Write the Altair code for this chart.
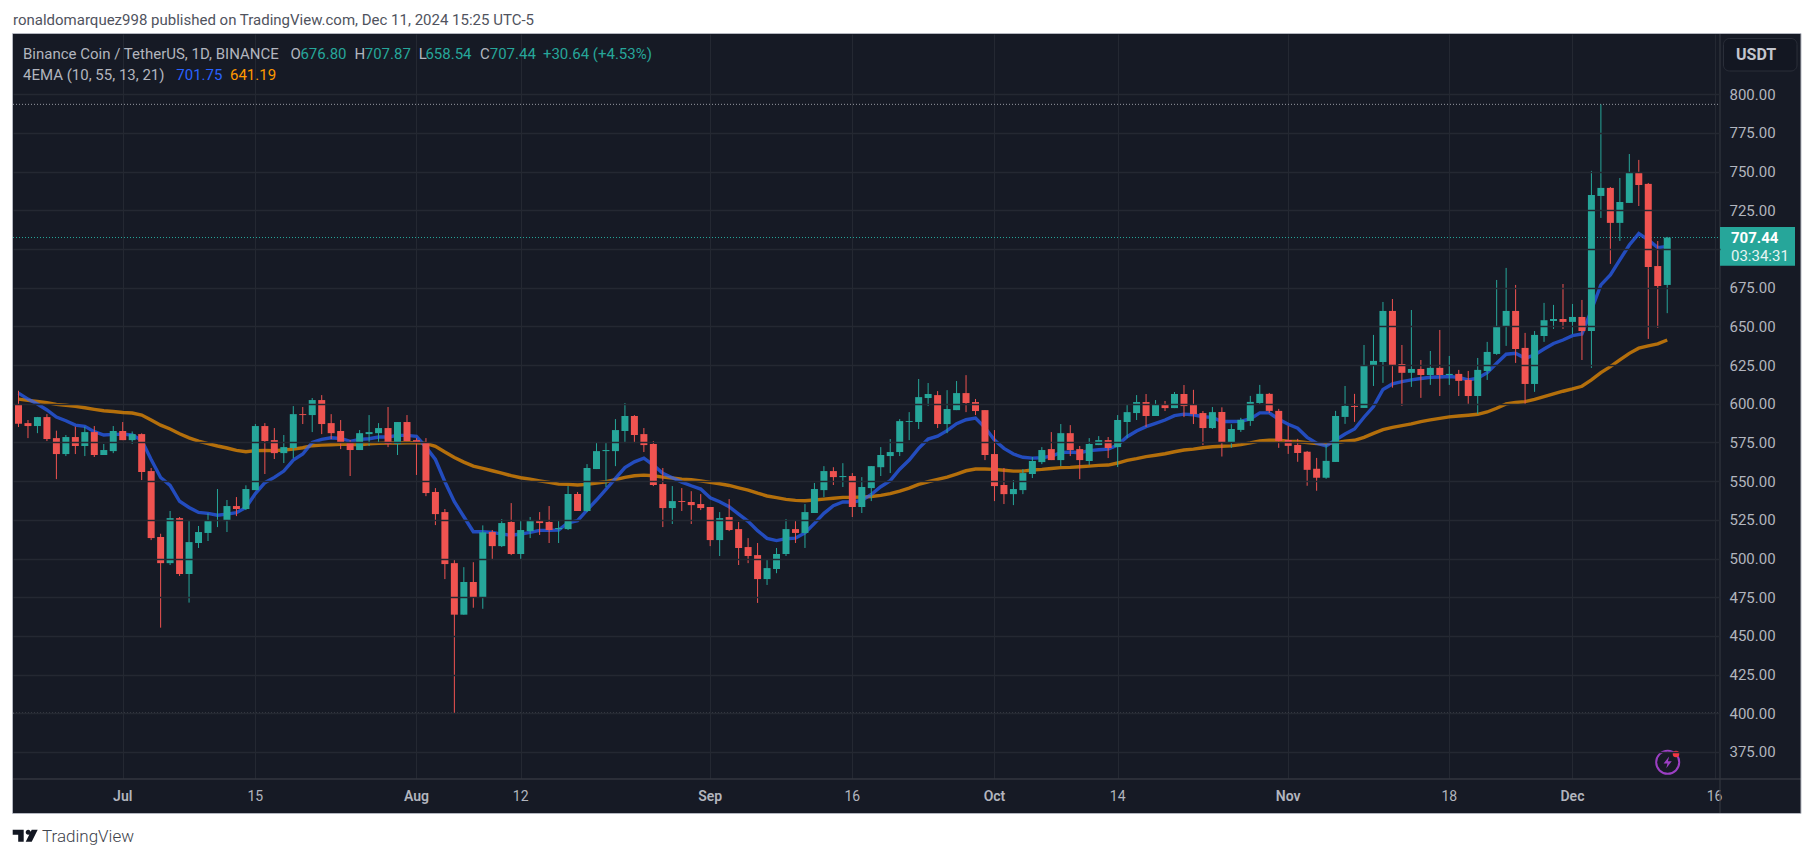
import altair as alt
import pandas as pd

# ---------- daily values, 2024-06-20 .. 2024-12-11 ----------
opens = [599.2,587.5,585.6,591.4,577.8,567.5,578.5,572.7,581.7,566.9,569.4,582.4,576.5,580.4,556.5,513.9,497,526.1,490,510,516.5,524.2,524.2,533.9,532,544.2,585.6,576.5,568.1,571.4,593.3,592.7,602.4,587.5,582.4,575.3,570.1,580.4,581,584.3,574,588.2,576.5,575.3,543,530,497,463.7,484.8,474.6,517.1,508,523.6,502.9,517.7,524.2,523.6,519,519,541.7,530.7,557.8,569.4,569.4,
 582.4,592.1,580.4,574,548.1,532.6,537.1,536.5,535.2,533.3,511.9,526.8,519,507.4,502.2,486.7,493.2,502.9,519,516.5,529.4,544.2,556.5,552.6,553.3,533.3,545.5,559,566.2,568.8,588.2,588.2,603.7,605.6,586.9,595.9,606.9,601.1,595.9,567.5,547.5,541.6,544.2,554.6,562.3,570.7,563.6,581,570.7,563,573.3,576.5,572,588.2,594,601.1,592.1,599.2,597.2,606.3,599.2,594,584.3,
 594.7,574.7,583.1,588.9,600.5,606.4,595.4,576.6,573.4,569,558,552.2,562.4,591.5,598.6,597.3,624.5,627,660,625.7,620,622.5,618.6,623.2,618.6,619.3,615.4,605,621.2,632.2,649.6,660,636.1,612.8,643.8,653.5,654.8,652.9,656.1,647,734.3,739.5,716.9,729.8,749.8,742.1,689,676.8]
closes = [587.1,585.6,591.4,577.2,567.5,578.5,572.7,581.7,566.9,570.1,582.4,576.5,580.4,555.9,513.2,497,526.1,490,510.6,517.1,524.9,524.9,533.9,532,544.9,585.6,575.9,568.1,572,593.3,592.7,602.4,586.9,581,574.6,570.1,581,581.7,584.3,574,588.2,575.9,574.6,542.3,528.7,496.4,463.7,484.8,474.6,516.9,508,522.9,502.9,518.4,524.2,522.9,518.4,519.7,541.7,530.7,558.5,569.4,570.1,583,
 592.1,579.8,573.3,547.5,532.6,537.1,536.5,534.5,532.6,511.9,526.1,518.4,506.8,501.6,486.7,493.8,502.9,519,516.5,530,544.9,556.5,552.6,553.3,533.3,546.2,559.7,566.9,568.8,588.8,588.8,604.3,606.3,586.9,596.6,606.9,600.5,595.3,566.9,546.8,541.6,544.9,555.2,563,570.1,563.6,581,570.1,563.6,574,576.5,571.4,589.5,594.6,601.1,592.1,599.2,597.2,606.3,598.5,593.3,584.3,594.6,
 574.7,583.7,589.6,601.2,606.4,595.4,576,572.8,568.2,557.3,552.2,563.1,592.1,598.6,598,625.1,627.7,660,625.1,620,622.5,618.6,623.2,618.6,619.3,614.8,605,621.9,633.5,650.3,660,635.4,612.8,644.5,654,654.8,652.9,656.1,647,735,739.5,716.9,730.4,749.8,741.4,688.4,676.1,707.44]
highs = [608.4,589.5,591.5,593.3,582.6,579.8,585.2,585.2,585.6,574,585.6,588.2,582.1,580.9,558.5,516,530.7,526.8,524.2,521,529.2,544.9,537.8,539.7,547.3,586.9,587.5,584.3,579.8,598.5,597.9,603.7,605.6,593.3,589.5,576.5,583,592.7,587.5,597.9,588.2,592.7,577.8,577.8,545.5,532,499.6,494.4,497.6,521.4,518.4,525.5,535.8,524.2,526.8,530,533.9,524.9,546.8,543,561,575.3,575.3,590.1,
 600.5,592.7,584.3,575.9,558.5,546.8,545.5,543.5,541.6,533.3,530,538.4,523.6,513.2,510,499.6,506.8,525.5,524.2,535.2,548.8,559.7,559,561.6,555.2,552.6,559.7,572,577.2,590.1,594.6,616,613.4,608.2,608.8,614.7,618.5,603.1,595.9,583,558.5,550.7,557.8,565.6,572,581.7,586.9,586.2,572.7,577.8,579.1,578.5,592.7,599.8,605.6,606.3,602.4,601.8,607.6,612.1,609,595.3,597.9,
 597.7,586.8,590.9,605.1,612.2,607,596.7,585.7,577.3,569.5,565,573.4,595.4,611.5,606.4,638,644.5,665.8,667.7,638,660.6,628.3,634.1,647.7,630.9,621.9,621.2,629.6,640,680,687.8,676.8,645.8,647,665.2,663.9,677.4,664.5,667.1,750.5,793.5,740.1,745.9,761.4,757.6,742.7,705.2,707.87]
lows = [585,577.8,581,575.9,551.3,566.2,567.5,566.2,565.6,566.9,568.1,576.5,574,550.7,511.9,455.3,495.8,488.7,471.5,506.8,511.3,520.3,517.1,527.4,531.3,544.2,554.6,564.3,561.7,564.9,586.9,581.7,580.4,577.2,570.7,553.3,570.1,572.7,574.6,572,566.9,575.9,554,540.3,521.6,486.7,400,463.7,468.2,467.5,499,507.4,502.2,499,513.2,515.2,510,510,518.4,530.7,530,557.8,546.2,559.7,
 574.6,574.6,568.8,546.8,520.3,522.3,530.7,522.3,531.3,508,501.6,517.7,495.8,497,471.3,482.9,490.5,501.6,510,506.8,529.4,539.7,547.5,546.2,526.8,529.4,537.1,553.3,555.2,566.2,576.5,583.7,598.5,584.3,581,595.9,594.6,592.7,563.6,537.1,535.2,534.5,541.6,552,561,563.6,559.7,566.2,551.3,560.4,573.3,564.9,559.1,577.8,589.5,585,592.1,595.3,597.2,591.4,586.9,573.3,583.7,
 565.9,571.5,581.8,585.7,599.9,594.1,571.5,567.6,562.5,547,543.8,551.5,562.4,587,588.3,597.3,611.5,613.5,610.4,598.6,610.9,603.8,612.2,605,612.2,605,599.9,593.4,615.4,631.6,637.4,626.4,599.9,607.7,640,648.4,648.4,645.1,628.3,623.2,720.1,690.4,705.2,729.8,727.8,641.9,649,658.54]
ema_fast = [606.9,603,599.8,596,591.4,589,586.2,585.4,582,579.8,580.2,580.4,579.8,576.5,564,552.4,547.2,537,533,529.8,529.2,528,528.7,529.6,533,542,549,552.4,556.5,563.6,567.5,575,577,578,577.6,575.7,577,577.4,578.5,578.5,579.6,579.6,579,572,564,549.6,536.7,527,517.3,517.3,516.9,515.8,515,515.8,516.9,518.2,518.2,518.4,523.1,524.4,531.3,537.8,544.7,551.8,
 558.7,562.5,564.9,560.4,555,552.2,549.4,547,544.9,539.3,536.7,533.5,528.7,524,518,513,511.6,512.8,513.2,516.5,522.7,529.2,534.1,536.5,536.5,537.6,541.4,546.4,550.3,557.7,563.6,571.2,577.2,579.1,582.6,587.1,589.7,590.8,584.6,576.5,571.2,567.5,565.4,564.9,565.1,566.2,568.4,568.8,568.4,569.7,570.3,570.7,573.3,578.7,582.4,585.2,587.3,589.5,592.3,593.3,592.9,591.6,591.2,
 588.5,588.5,588.7,590.2,594.1,594.1,590,586.8,584.2,578.3,574.5,572.8,576.6,580.5,583.7,591.3,598.2,609.2,612.8,614.3,615.4,616.3,617.1,617.3,617.6,617.1,615.4,616.5,620.1,626.2,632,632.6,629.4,631.6,635.4,639,641.2,644,645.1,660.6,676.8,683.3,693,702.6,710,705.9,700.9,701.75]
ema_slow = [603,602.2,601.5,600.7,599.6,599,598.3,597.4,596.4,595.5,595,594.4,594,592.7,589.5,586.2,583.7,580.6,578,575.9,574.2,572.7,571.4,569.9,569,569.7,569.9,569.7,570.1,570.7,571.6,572.9,573.3,573.5,573.8,573.8,573.5,574.2,574.4,574.6,574.6,574.8,574.8,574.4,572.5,568.8,565.3,562.3,559.7,558.2,556.7,555.2,553.5,552.2,551.3,550.2,549.2,548.1,547.9,547.5,547.9,548.8,549.6,551,
 552.4,553.5,553.9,553.5,552.6,552,551.3,550.9,550.2,549.2,548.3,547.2,545.7,544.2,542.2,540.4,539.3,538.2,537.6,537.3,537.8,538.4,538.9,539.5,539.5,539.7,540.1,540.8,541.9,543.6,545.5,547.9,549.6,551.1,552.6,554.6,556.7,557.8,557.8,557.6,557,556.5,556.5,557.2,557.6,558.2,558.7,558.9,559.3,559.7,560.2,560.4,561.7,563.4,564.5,565.8,566.7,567.7,569,570.1,570.7,571.6,572.2,
 572.5,572.8,573.6,574.7,576,576.4,576.4,575.8,575.6,574.9,574.3,574.1,574.9,575.8,576.4,578.3,580.9,583.3,584.8,585.9,587,588.5,589.6,590.6,591.5,592.1,592.6,593.2,594.7,597.1,599.9,600.8,601.4,602.9,604.6,606.4,608.1,609.6,611.3,615.4,620.1,624,628.3,632.6,635.9,637.4,638.7,641.19]

dates = pd.date_range("2024-06-20", periods=len(opens)).strftime("%Y-%m-%d").tolist()

tick_dates = ["2024-07-01","2024-07-15","2024-08-01","2024-08-12","2024-09-01","2024-09-16",
              "2024-10-01","2024-10-14","2024-11-01","2024-11-18","2024-12-01","2024-12-16"]
tick_labels = ["Jul","15","Aug","12","Sep","16","Oct","14","Nov","18","Dec","16"]
month_labels = ["Jul","Aug","Sep","Oct","Nov","Dec"]
price_ticks = list(range(375, 825, 25))
guide_levels = [793.5, 400]
last_close = 707.44

# ---------- styling ----------
BG = "#161A25"; GRID = "#242832"; EDGE = "#33363F"; FRAME = "#B4B7C0"
UP = "#26A69A"; DOWN = "#EF5350"; TXT = "#B2B5BE"; INK = "#40434C"
FONT = "Roboto"
W, H = 1707, 745          # plot area: page x 13..1720, y 34..779
OX, OY = 13, 34           # page position of the plot's corner

ms = lambda s: int(pd.Timestamp(s, tz="UTC").timestamp() * 1000)
DAY = 86400000
x_scale = alt.Scale(type="utc", nice=False, padding=0,
                    domain=[ms("2024-07-01") - 11.58 * DAY, ms("2024-07-01") + 168.57 * DAY])
y_scale = alt.Scale(domain=[357.5, 838.97], nice=False, zero=False)

df = pd.DataFrame({"date": dates, "o": opens, "h": highs, "l": lows, "c": closes,
                   "fast": ema_fast, "slow": ema_slow})
df["dir"] = ["up" if c >= o else "down" for o, c in zip(opens, closes)]
ticks = pd.DataFrame({"date": tick_dates, "label": tick_labels})
ticks_m = ticks[ticks.label.isin(month_labels)]
ticks_d = ticks[~ticks.label.isin(month_labels)]

one = alt.Data(values=[{}])

def X(field="date:T"):
    return alt.X(field, scale=x_scale, axis=None)

def Y(field):
    return alt.Y(field, scale=y_scale, axis=None)

def label(text, x, y, color=TXT, size=15, weight=400, font=FONT, align="left"):
    return alt.Chart(one).mark_text(text=text, align=align, baseline="middle", font=font,
                                    fontSize=size, fontWeight=weight, color=color).encode(
        x=alt.value(x - OX), y=alt.value(y - OY))

def box(x0, x1, y0, y1, **kw):
    return alt.Chart(one).mark_rect(**kw).encode(
        x=alt.value(x0 - OX), x2=alt.value(x1 - OX), y=alt.value(y0 - OY), y2=alt.value(y1 - OY))

def hline(x0, x1, y, color, width=1):
    return alt.Chart(one).mark_rule(color=color, strokeWidth=width).encode(
        x=alt.value(x0 - OX), x2=alt.value(x1 - OX), y=alt.value(y - OY))

def vline(x, y0, y1, color, width=1):
    return alt.Chart(one).mark_rule(color=color, strokeWidth=width).encode(
        x=alt.value(x - OX), y=alt.value(y0 - OY), y2=alt.value(y1 - OY))

# grid + price axis
grid_layer = alt.Chart(df).mark_rule(opacity=0).encode(
    x=alt.X("date:T", scale=x_scale, title=None, axis=alt.Axis(
        values=[ms(d) for d in tick_dates], grid=True, gridColor=GRID, gridWidth=1,
        labels=False, ticks=False, domain=False)),
    y=alt.Y("c:Q", scale=y_scale, title=None, axis=alt.Axis(
        orient="right", values=price_ticks, grid=True, gridColor=GRID, gridWidth=1.3,
        domain=False, ticks=False, labelPadding=9, labelFont=FONT, labelFontSize=15,
        labelColor=TXT, labelExpr="datum.value == 700 ? '' : format(datum.value, '.2f')", zindex=1)),
)

panels = [box(1720, 1801, 34, 779, fill=BG), box(13, 1801, 779, 813, fill=BG)]

# time labels, clipped at the price panel by being drawn before it
time_m = alt.Chart(ticks_m).mark_text(font=FONT, fontSize=14, fontWeight=600, color=TXT, baseline="middle").encode(
    x=X(), y=alt.value(796.5 - OY), text="label:N")
time_d = alt.Chart(ticks_d).mark_text(font=FONT, fontSize=14, fontWeight=400, color=TXT, baseline="middle").encode(
    x=X(), y=alt.value(796.5 - OY), text="label:N")

guides = alt.Chart(pd.DataFrame({"v": guide_levels})).mark_rule(
    color="#9598A1", strokeWidth=1, strokeDash=[1, 2]).encode(
    y=Y("v:Q"), x=alt.value(0), x2=alt.value(W))
close_line = alt.Chart(pd.DataFrame({"v": [last_close]})).mark_rule(
    color=UP, strokeWidth=1, strokeDash=[1, 2]).encode(
    y=Y("v:Q"), x=alt.value(0), x2=alt.value(W))

line_fast = alt.Chart(df).mark_line(color="#2962FF", strokeWidth=3.4, opacity=0.7).encode(x=X(), y=Y("fast:Q"))
line_slow = alt.Chart(df).mark_line(color="#FF9800", strokeWidth=3.4, opacity=0.68).encode(x=X(), y=Y("slow:Q"))

color = alt.Color("dir:N", scale=alt.Scale(domain=["up", "down"], range=[UP, DOWN]), legend=None)
wicks = alt.Chart(df).mark_rule(strokeWidth=1).encode(x=X(), y=Y("l:Q"), y2="h:Q", color=color)
bodies = alt.Chart(df).mark_bar(size=7).encode(x=X(), y=Y("o:Q"), y2="c:Q", color=color)

# frame and axis borders
edges = [hline(13, 1801, 779, EDGE, 1.4), vline(1720, 34, 813, EDGE, 1.2)]
frame = box(12.5, 1801, 33.5, 813.5, fillOpacity=0, stroke=FRAME, strokeWidth=1)

# price tag
tag = [box(1720, 1795, 227, 265.7, fill=UP),
       label("707.44", 1731, 238, color="#FFFFFF", size=15, weight=700),
       label("03:34:31", 1731, 256, color="#E6F4F2", size=15)]

# currency button
usdt = [box(1723.5, 1797, 38.5, 71, fill="#131722", stroke="#2A2E39", strokeWidth=1, cornerRadius=6),
        label("USDT", 1736, 55, color="#C3C6CE", size=16, weight=700)]

# legend text
legend = [
    label("Binance Coin / TetherUS, 1D, BINANCE", 23, 54),
    label("O", 290.6, 54), label("676.80", 300.4, 54, color=UP),
    label("H", 354.5, 54), label("707.87", 364.7, 54, color=UP),
    label("L", 418.8, 54), label("658.54", 425.4, 54, color=UP),
    label("C", 480, 54), label("707.44", 489.7, 54, color=UP),
    label("+30.64 (+4.53%)", 542.9, 54, color=UP),
    label("4EMA (10, 55, 13, 21)", 23, 75),
    label("701.75", 176.3, 75, color="#2962FF"),
    label("641.19", 230, 75, color="#FF9800"),
]

header = label("ronaldomarquez998 published on TradingView.com, Dec 11, 2024 15:25 UTC-5", 13, 20,
               color="#50535E", size=15)

# footer mark
LOGO = ("M-0.5,-0.24 H-0.06 V0.24 H-0.28 V-0.04 H-0.5 Z "
        "M0.5,-0.24 L0.26,0.24 H0.02 L0.26,-0.24 Z "
        "M0.12,-0.24 A0.1,0.1 0 1 1 0.1199,-0.24 Z")
logo = alt.Chart(one).mark_point(shape=LOGO, filled=True, size=2500, color="#131722", opacity=1).encode(
    x=alt.value(25.2 - OX), y=alt.value(835.7 - OY))
footer = label("TradingView", 42, 836.5, color=INK, size=17, weight=300)

# bolt badge
BOLT = "M0.12,-0.5 L-0.35,0.1 H-0.02 L-0.12,0.5 L0.35,-0.1 H0.02 Z"
badge = [
    alt.Chart(one).mark_point(shape="circle", size=530, color="#9C3FC4", strokeWidth=2, filled=False, opacity=1).encode(
        x=alt.value(1667.7 - OX), y=alt.value(762.3 - OY)),
    alt.Chart(one).mark_point(shape=BOLT, size=550, color="#9C3FC4", filled=True, opacity=1).encode(
        x=alt.value(1667.7 - OX), y=alt.value(762.3 - OY)),
    alt.Chart(one).mark_point(shape="circle", size=42, color="#F23645", filled=True, opacity=1).encode(
        x=alt.value(1676 - OX), y=alt.value(754 - OY)),
]

chart = alt.layer(
    grid_layer, guides, close_line, line_slow, line_fast, wicks, bodies,
    panels[1], time_m, time_d, panels[0],
    *edges, frame, *tag, *usdt, *legend, header, logo, footer, *badge,
).resolve_scale(x="shared", y="shared").resolve_axis(x="independent", y="independent").properties(
    width=W, height=H,
    padding={"left": 5, "top": 26, "right": 85, "bottom": 72},
    autosize=alt.AutoSizeParams(type="none"),
    background="#FFFFFF",
).configure_view(fill=BG, strokeWidth=0)

chart.save("out.html", embed_options={"renderer": "svg", "actions": False})
